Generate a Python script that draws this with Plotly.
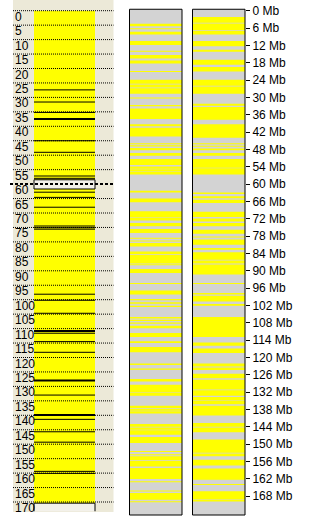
import plotly.graph_objects as go

# ---------------- data (Mb) ----------------
MB_TICKS = list(range(0, 169, 6))
MB_TICK_TEXT = [f"{v} Mb" for v in MB_TICKS]
LEFT_TICKS = list(range(0, 171, 5))
LEFT_TICK_TEXT = [str(v) for v in LEFT_TICKS]

DISK_USED = (0.0, 170.4)
SELECTION = (58.5, 61.7)
CURSOR_MB = 60
DISK_TAIL = (170.4, 173.2)

FRAGMENT_LINES = [27.4, 31.6, 35.2, 45.0, 49.0, 57.2, 58.0, 62.8, 64.6, 68.0,
                  74.5, 75.1, 75.6, 98.1, 100.2, 104.7, 111.6, 114.5, 118.2,
                  133.0, 141.4, 145.7, 149.3, 159.4, 160.1]
THICK_LINES = [37.5, 110.8, 128.0, 139.9]

PANEL_EXTENT = (-0.5, 174.5)

PANEL_A_START = [4.5, 6.05, 7.3, 10.5, 13.85, 15.3, 17.2, 20.85, 23.9, 25.5, 26.8,
                 30.05, 32.6, 33.8, 39.3, 40.5, 45.9, 46.6, 47.5, 49.2, 51.3, 53.9,
                 54.9, 55.8, 62.3, 65.0, 69.4, 71.6, 73.5, 75.5, 78.6, 79.5, 80.4,
                 83.3, 84.5, 87.75, 89.4, 94.2, 96.8, 99.8, 100.9, 102.1, 106.0,
                 106.9, 107.9, 109.0, 111.5, 114.4, 116.4, 122.1, 123.8, 127.4,
                 129.4, 132.2, 136.7, 137.7, 138.6, 143.0, 144.2, 145.2, 147.5,
                 152.35, 153.45, 154.2, 155.7, 158.2, 162.85, 166.0, 166.9, 169.7]
PANEL_A_END = [5.4, 6.4, 8.2, 11.9, 14.2, 16.5, 18.3, 21.2, 25.3, 26.6, 28.7,
               30.4, 33.1, 37.5, 40.0, 43.5, 46.25, 46.95, 48.3, 50.2, 53.4, 54.7,
               55.6, 56.7, 62.9, 66.3, 71.4, 72.6, 74.6, 76.9, 78.95, 79.85, 81.6,
               84.3, 87.5, 88.1, 90.8, 94.55, 98.2, 100.2, 101.4, 102.5, 106.5,
               107.4, 108.3, 109.9, 112.9, 115.0, 118.2, 122.6, 124.2, 128.3,
               132.0, 133.2, 137.5, 138.4, 139.4, 144.0, 145.0, 146.7, 149.6,
               152.7, 153.8, 155.5, 157.7, 162.0, 163.2, 166.4, 169.2, 170.05]

PANEL_B_START = [2.2, 4.4, 6.9, 10.5, 13.5, 17.0, 19.5, 23.9, 26.2, 32.2, 33.3,
                 39.3, 45.9, 46.7, 47.7, 49.2, 51.3, 54.5, 62.9, 64.2, 65.4, 69.6,
                 71.9, 73.5, 75.8, 78.1, 79.2, 82.1, 83.6, 86.4, 87.8, 94.2, 97.7,
                 98.6, 101.5, 106.0, 114.8, 116.9, 122.1, 123.5, 125.6, 127.7,
                 131.3, 133.7, 135.0, 136.7, 142.7, 144.2, 148.4, 153.2, 155.4,
                 158.4, 163.8, 166.3, 169.3]
PANEL_B_END = [4.2, 6.7, 8.2, 12.3, 14.2, 18.7, 21.0, 26.0, 28.7, 32.9, 37.7,
               44.0, 46.25, 47.05, 48.3, 50.2, 54.3, 56.7, 63.4, 64.9, 66.5, 71.4,
               72.9, 74.6, 77.2, 78.45, 81.0, 82.7, 86.2, 87.5, 91.3, 94.55, 98.2,
               100.6, 102.1, 112.9, 115.9, 118.4, 123.1, 124.3, 127.2, 131.1,
               133.2, 134.8, 136.2, 140.1, 144.0, 145.9, 153.0, 154.2, 157.4,
               162.3, 164.15, 169.1, 169.8]

# ---------------- layout constants ----------------
W, H = 315, 523
PX0, K = 10.7, 2.89          # pixel row of 0 Mb, pixels per Mb
Y_RANGE = [(H - PX0) / K, -PX0 / K]
YELLOW = "#FFFF00"
GRAY = "#D3D3D3"
BEIGE = "#ECE9D8"
LIGHT = "#F3F1EA"


def px(x):
    return x / W


def stripes(starts, ends):
    xs, ys = [], []
    for s, e in zip(starts, ends):
        xs += [-0.5, 0.5, 0.5, -0.5, -0.5, None]
        ys += [s, s, e, e, s, None]
    return xs, ys


fig = go.Figure()

for axis, st, en in [("x", [DISK_USED[0]], [DISK_USED[1]]),
                     ("x2", PANEL_A_START, PANEL_A_END),
                     ("x3", PANEL_B_START, PANEL_B_END)]:
    xs, ys = stripes(st, en)
    fig.add_trace(go.Scatter(x=xs, y=ys, mode="lines", fill="toself",
                             fillcolor=YELLOW, line=dict(width=0, color=YELLOW),
                             xaxis=axis, yaxis="y", hoverinfo="skip",
                             showlegend=False))

shapes = []
# beige background of overview
shapes.append(dict(type="rect", xref="paper", yref="paper", x0=px(13), x1=px(113.5),
                   y0=1 - 512 / H, y1=1, fillcolor=BEIGE, line=dict(width=0), layer="below"))
# panel backgrounds and frames
for xr in ["x2 domain", "x3 domain"]:
    shapes.append(dict(type="rect", xref=xr, yref="y", x0=0, x1=1,
                       y0=PANEL_EXTENT[0], y1=PANEL_EXTENT[1], fillcolor=GRAY,
                       line=dict(width=0), layer="below"))
    shapes.append(dict(type="rect", xref=xr, yref="y", x0=0, x1=1,
                       y0=PANEL_EXTENT[0], y1=PANEL_EXTENT[1],
                       fillcolor="rgba(0,0,0,0)", line=dict(color="black", width=1),
                       layer="above"))
# selection box and tail box
shapes.append(dict(type="rect", xref="x domain", yref="y", x0=0, x1=1,
                   y0=SELECTION[0], y1=SELECTION[1], fillcolor=LIGHT,
                   line=dict(color="black", width=1), layer="above"))
shapes.append(dict(type="rect", xref="x domain", yref="y", x0=0, x1=1,
                   y0=DISK_TAIL[0], y1=DISK_TAIL[1], fillcolor=LIGHT,
                   line=dict(width=0), layer="above"))
for xv in [0, 1]:
    shapes.append(dict(type="line", xref="x domain", yref="y", x0=xv, x1=xv,
                       y0=DISK_TAIL[0], y1=DISK_TAIL[1],
                       line=dict(color="black", width=1), layer="above"))
shapes.append(dict(type="line", xref="x domain", yref="y", x0=0, x1=1,
                   y0=DISK_TAIL[0], y1=DISK_TAIL[0],
                   line=dict(color="black", width=1), layer="above"))
# dotted grid
for v in LEFT_TICKS:
    if v == CURSOR_MB:
        continue
    shapes.append(dict(type="line", xref="paper", yref="y", x0=px(13), x1=px(113.5),
                       y0=v, y1=v, line=dict(color="black", width=1, dash="1px,1px"),
                       layer="above"))
# cursor
shapes.append(dict(type="line", xref="paper", yref="y", x0=px(10), x1=px(113.5),
                   y0=CURSOR_MB, y1=CURSOR_MB,
                   line=dict(color="black", width=2, dash="3px,2px"), layer="above"))
# fragment lines
for v in FRAGMENT_LINES:
    shapes.append(dict(type="line", xref="x domain", yref="y", x0=0, x1=1, y0=v, y1=v,
                       line=dict(color="black", width=1), layer="above"))
for v in THICK_LINES:
    shapes.append(dict(type="line", xref="x domain", yref="y", x0=0, x1=1, y0=v, y1=v,
                       line=dict(color="black", width=2), layer="above"))

annotations = []
for v, t in zip(LEFT_TICKS, LEFT_TICK_TEXT):
    annotations.append(dict(x=px(14), xref="paper", xanchor="left", y=v, yref="y",
                            yanchor="top", yshift=2, text=t, showarrow=False,
                            font=dict(family="Liberation Sans, Arial, sans-serif",
                                      size=12, color="black"),
                            borderpad=0))

axis_off = dict(visible=False, range=[-0.5, 0.5], fixedrange=True, anchor="y")
fig.update_layout(
    width=W, height=H, margin=dict(l=0, r=0, t=0, b=0),
    paper_bgcolor="white", plot_bgcolor="rgba(0,0,0,0)",
    showlegend=False,
    xaxis=dict(domain=[px(34), px(95)], **axis_off),
    xaxis2=dict(domain=[px(129.5), px(182)], **axis_off),
    xaxis3=dict(domain=[px(192.5), px(245)], **axis_off),
    yaxis=dict(domain=[0, 1], range=Y_RANGE, anchor="x3", side="right",
               showgrid=False, zeroline=False, showline=False,
               ticks="outside", ticklen=4, tickwidth=1, tickcolor="black",
               tickvals=MB_TICKS, ticktext=MB_TICK_TEXT,
               tickfont=dict(family="Liberation Sans, Arial, sans-serif", size=12,
                             color="black"),
               fixedrange=True),
    shapes=shapes, annotations=annotations,
)

fig.write_html("out.html")
